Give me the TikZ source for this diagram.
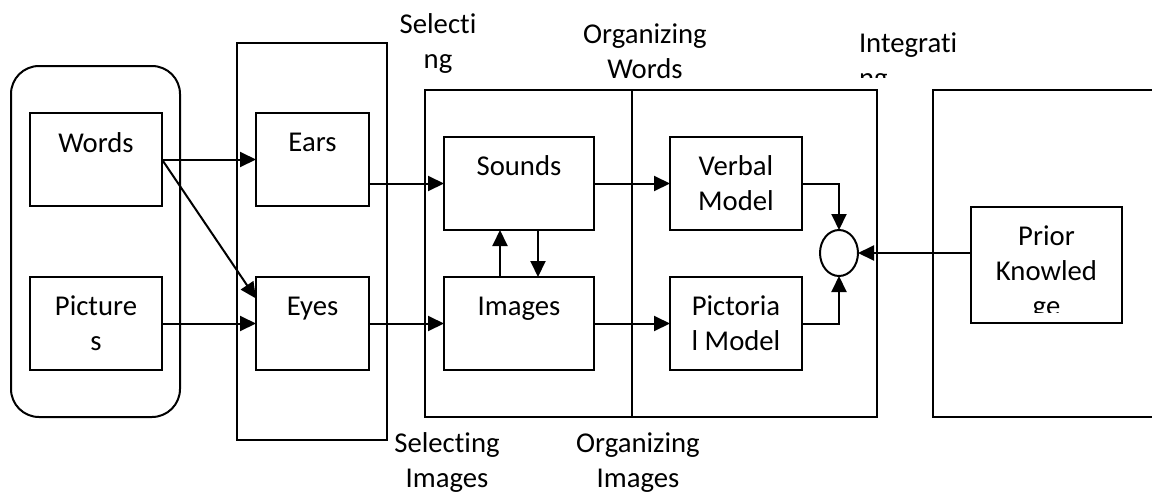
\documentclass[tikz,border=0pt]{standalone}
\usepackage{fontspec}
\setmainfont{Carlito}[Ligatures=NoCommon]
\usetikzlibrary{arrows.meta,shapes.geometric,calc}
\begin{document}
\begin{tikzpicture}[x=1pt,y=-1pt,line width=2pt,
  box/.style={draw,rectangle,inner sep=0pt,outer sep=0pt,minimum width=#1},
  arr/.style={-{Triangle[length=16pt,width=15pt]}},
  txt/.style={inner sep=0pt,outer sep=0pt,anchor=base,align=center,font=\fontsize{28.7}{34.8}\selectfont}]
\useasboundingbox (0,0) rectangle (1152,493);
\fill[white] (0,0) rectangle (1152,493);
% containers
\node[box=169pt,minimum height=351pt,rounded corners=28pt] (group) at (95.5,241.5) {};
\node[box=150pt,minimum height=397pt] (sel) at (312,241.5) {};
\node[box=452pt,minimum height=327pt] (mid) at (651,253.5) {};
\coordinate (divT) at (632,90);
\coordinate (divB) at (632,417);
\draw (divT) -- (divB);
\begin{scope}
\clip (0,0) rectangle (1152,493);
\node[box=237pt,minimum height=327pt] (right) at (1051.5,253.5) {};
\end{scope}
% boxes
\node[box=132pt,minimum height=93pt] (words) at (96,159.5) {};
\node[box=132pt,minimum height=93pt] (pics) at (96,323.5) {};
\node[box=113pt,minimum height=93pt] (ears) at (312.5,159.5) {};
\node[box=113pt,minimum height=93pt] (eyes) at (312.5,323.5) {};
\node[box=150pt,minimum height=93pt] (sounds) at (519,183.5) {};
\node[box=150pt,minimum height=93pt] (images) at (519,323.5) {};
\node[box=132pt,minimum height=93pt] (verbal) at (736,183.5) {};
\node[box=132pt,minimum height=93pt] (pictorial) at (736,323.5) {};
\node[box=151pt,minimum height=116pt] (prior) at (1046.5,265) {};
\node[draw,ellipse,inner sep=0pt,outer sep=0pt,minimum width=38pt,minimum height=46pt] (circ) at (839,253) {};
% box texts
\node[txt] (wordsT) at (96,152) {Words};
\node[txt] (picsT) at (96,350) {Picture\\s};
\node[txt] (earsT) at (312.5,151) {Ears};
\node[txt] (eyesT) at (312.5,315) {Eyes};
\node[txt] (soundsT) at (519,175) {Sounds};
\node[txt] (imagesT) at (519,315) {Images};
\node[txt] (verbalT) at (736,210.5) {Verbal\\Model};
\node[txt] (pictorialT) at (736,350.5) {Pictoria\\l Model};
\begin{scope}
\clip (972,208) rectangle (1121,312);
\node[txt] (priorT) at (1046.5,315) {Prior\\Knowled\\ge};
\end{scope}
% labels
\node[txt] (selW) at (438,68) {Selecti\\ng};
\node[txt] (orgW) at (645,78) {Organizing\\Words};
\begin{scope}
\clip (850,0) rectangle (980,77);
\node[txt,anchor=base west,align=left] (integ) at (859,87) {Integrati\\ng};
\end{scope}
\node[txt] (selI) at (447,487) {Selecting\\Images};
\node[txt] (orgI) at (638,487) {Organizing\\Images};
% connectors
\coordinate (eyesIn) at ($(eyes.west)+(0,-25)$);
\draw[arr] (words.east) -- (ears.west);
\draw[arr] (words.east) -- (eyesIn);
\draw[arr] (pics.east) -- (eyes.west);
\draw[arr] (sounds.west -| ears.east) -- (sounds.west);
\draw[arr] (eyes.east) -- (images.west);
\draw[arr] ($(images.north)+(-19,0)$) -- ($(sounds.south)+(-19,0)$);
\draw[arr] ($(sounds.south)+(19,0)$) -- ($(images.north)+(19,0)$);
\draw[arr] (sounds.east) -- (verbal.west);
\draw[arr] (images.east) -- (pictorial.west);
\draw[arr] (verbal.east) -| (circ.north);
\draw[arr] (pictorial.east) -| (circ.south);
\draw[arr] (prior.west |- circ.east) -- (circ.east);
\end{tikzpicture}
\end{document}
